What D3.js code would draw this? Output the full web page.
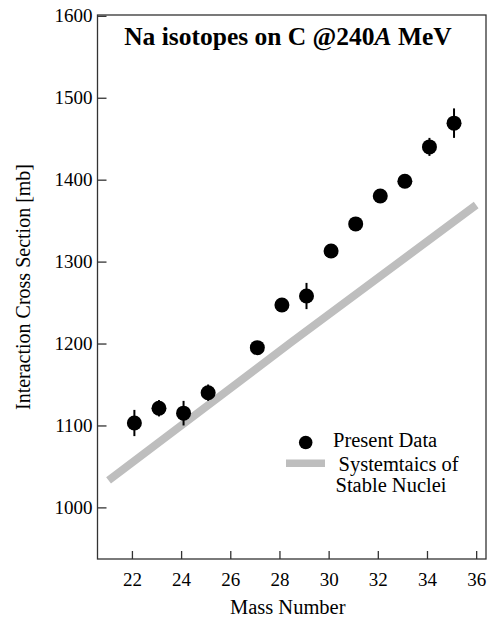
<!DOCTYPE html>
<meta charset="utf-8">
<script src="https://d3js.org/d3.v7.min.js"></script>
<style>
  body { margin: 0; background: #fff; }
  svg text { font-family: "Liberation Serif", "Times New Roman", Times, serif; fill: #000; }
</style>
<div id="chart"></div>
<script>

// data
const massNumbers = [22, 23, 24, 25, 27, 28, 29, 30, 31, 32, 33, 34, 35];
const crossSections = [1103, 1121, 1115, 1140, 1195, 1247, 1258, 1313, 1346, 1380, 1398, 1440, 1469];
const crossErrors = [16, 10, 15, 10, 4, 4, 16, 4, 4, 4, 4, 11, 18];

// systematics of stable nuclei (grey band)
const systMass = [21.05, 28.5, 36];
const systSigma = [1033, 1202, 1369];

const xTicks = [22, 24, 26, 28, 30, 32, 34, 36];
const yTicks = [1000, 1100, 1200, 1300, 1400, 1500, 1600];

const W = 489, H = 619;
const margin = {top: 15, right: 3, bottom: 60, left: 97.5};
const width = W - margin.left - margin.right,
      height = H - margin.top - margin.bottom;

const svg = d3.select("#chart").append("svg")
    .attr("width", W)
    .attr("height", H)
    .attr("font-family", "Liberation Serif");

const g = svg.append("g")
    .attr("transform", `translate(${margin.left},${margin.top})`);

const x = d3.scaleLinear().domain([20.6, 36.4]).range([0, width]);
const y = d3.scaleLinear().domain([937, 1601]).range([height, 0]);

// frame
g.append("rect")
    .attr("width", width)
    .attr("height", height)
    .attr("fill", "none")
    .attr("stroke", "#333")
    .attr("stroke-width", 1.3);

// axes with inward ticks
const xAxis = g.append("g")
    .attr("transform", `translate(0,${height})`)
    .call(d3.axisBottom(x).tickValues(xTicks).tickSize(-8).tickPadding(14).tickFormat(d3.format("d")));
const yAxis = g.append("g")
    .call(d3.axisLeft(y).tickValues(yTicks).tickSize(-9).tickPadding(5).tickFormat(d3.format("d")));

[xAxis, yAxis].forEach(a => {
  a.attr("font-family", "Liberation Serif").attr("font-size", 19);
  a.select(".domain").remove();
  a.selectAll(".tick line").attr("stroke", "#333").attr("stroke-width", 1.3);
  a.selectAll(".tick text").attr("fill", "#000");
});

// grey systematics band
g.append("path")
    .datum(systMass.map((m, i) => [m, systSigma[i]]))
    .attr("fill", "none")
    .attr("stroke", "#bebebe")
    .attr("stroke-width", 8)
    .attr("d", d3.line().x(d => x(d[0])).y(d => y(d[1])));

// data points with error bars
const pts = massNumbers.map((m, i) => ({m: m + 0.1, s: crossSections[i], e: crossErrors[i]}));

g.append("g").selectAll("line")
  .data(pts)
  .join("line")
    .attr("x1", d => x(d.m))
    .attr("x2", d => x(d.m))
    .attr("y1", d => y(d.s - d.e))
    .attr("y2", d => y(d.s + d.e))
    .attr("stroke", "#000")
    .attr("stroke-width", 2);

g.append("g").selectAll("circle")
  .data(pts)
  .join("circle")
    .attr("cx", d => x(d.m))
    .attr("cy", d => y(d.s))
    .attr("r", 7.5)
    .attr("fill", "#000");

// title
const title = svg.append("text")
    .attr("x", 288)
    .attr("y", 44.5)
    .attr("text-anchor", "middle")
    .style("font-size", "25.5px")
    .style("font-weight", "bold");
title.append("tspan").text("Na isotopes on C @240");
title.append("tspan").style("font-style", "italic").text("A");
title.append("tspan").text(" MeV");

// axis labels
svg.append("text")
    .attr("x", margin.left + width / 2 - 4)
    .attr("y", 614)
    .attr("text-anchor", "middle")
    .style("font-size", "20.5px")
    .text("Mass Number");

svg.append("text")
    .attr("transform", `translate(29.5,${margin.top + height / 2}) rotate(-90)`)
    .attr("text-anchor", "middle")
    .style("font-size", "20px")
    .text("Interaction Cross Section [mb]");

// legend
svg.append("circle")
    .attr("cx", 305.7)
    .attr("cy", 442.5)
    .attr("r", 6.8)
    .attr("fill", "#000");
svg.append("text")
    .attr("x", 333)
    .attr("y", 446.5)
    .style("font-size", "20.5px")
    .text("Present Data");

svg.append("line")
    .attr("x1", 286)
    .attr("x2", 325)
    .attr("y1", 463.3)
    .attr("y2", 463.3)
    .attr("stroke", "#bebebe")
    .attr("stroke-width", 7.5);
svg.append("text")
    .attr("x", 338.5)
    .attr("y", 471)
    .style("font-size", "20.5px")
    .text("Systemtaics of");
svg.append("text")
    .attr("x", 335.5)
    .attr("y", 491.5)
    .style("font-size", "20.5px")
    .text("Stable Nuclei");

</script>
